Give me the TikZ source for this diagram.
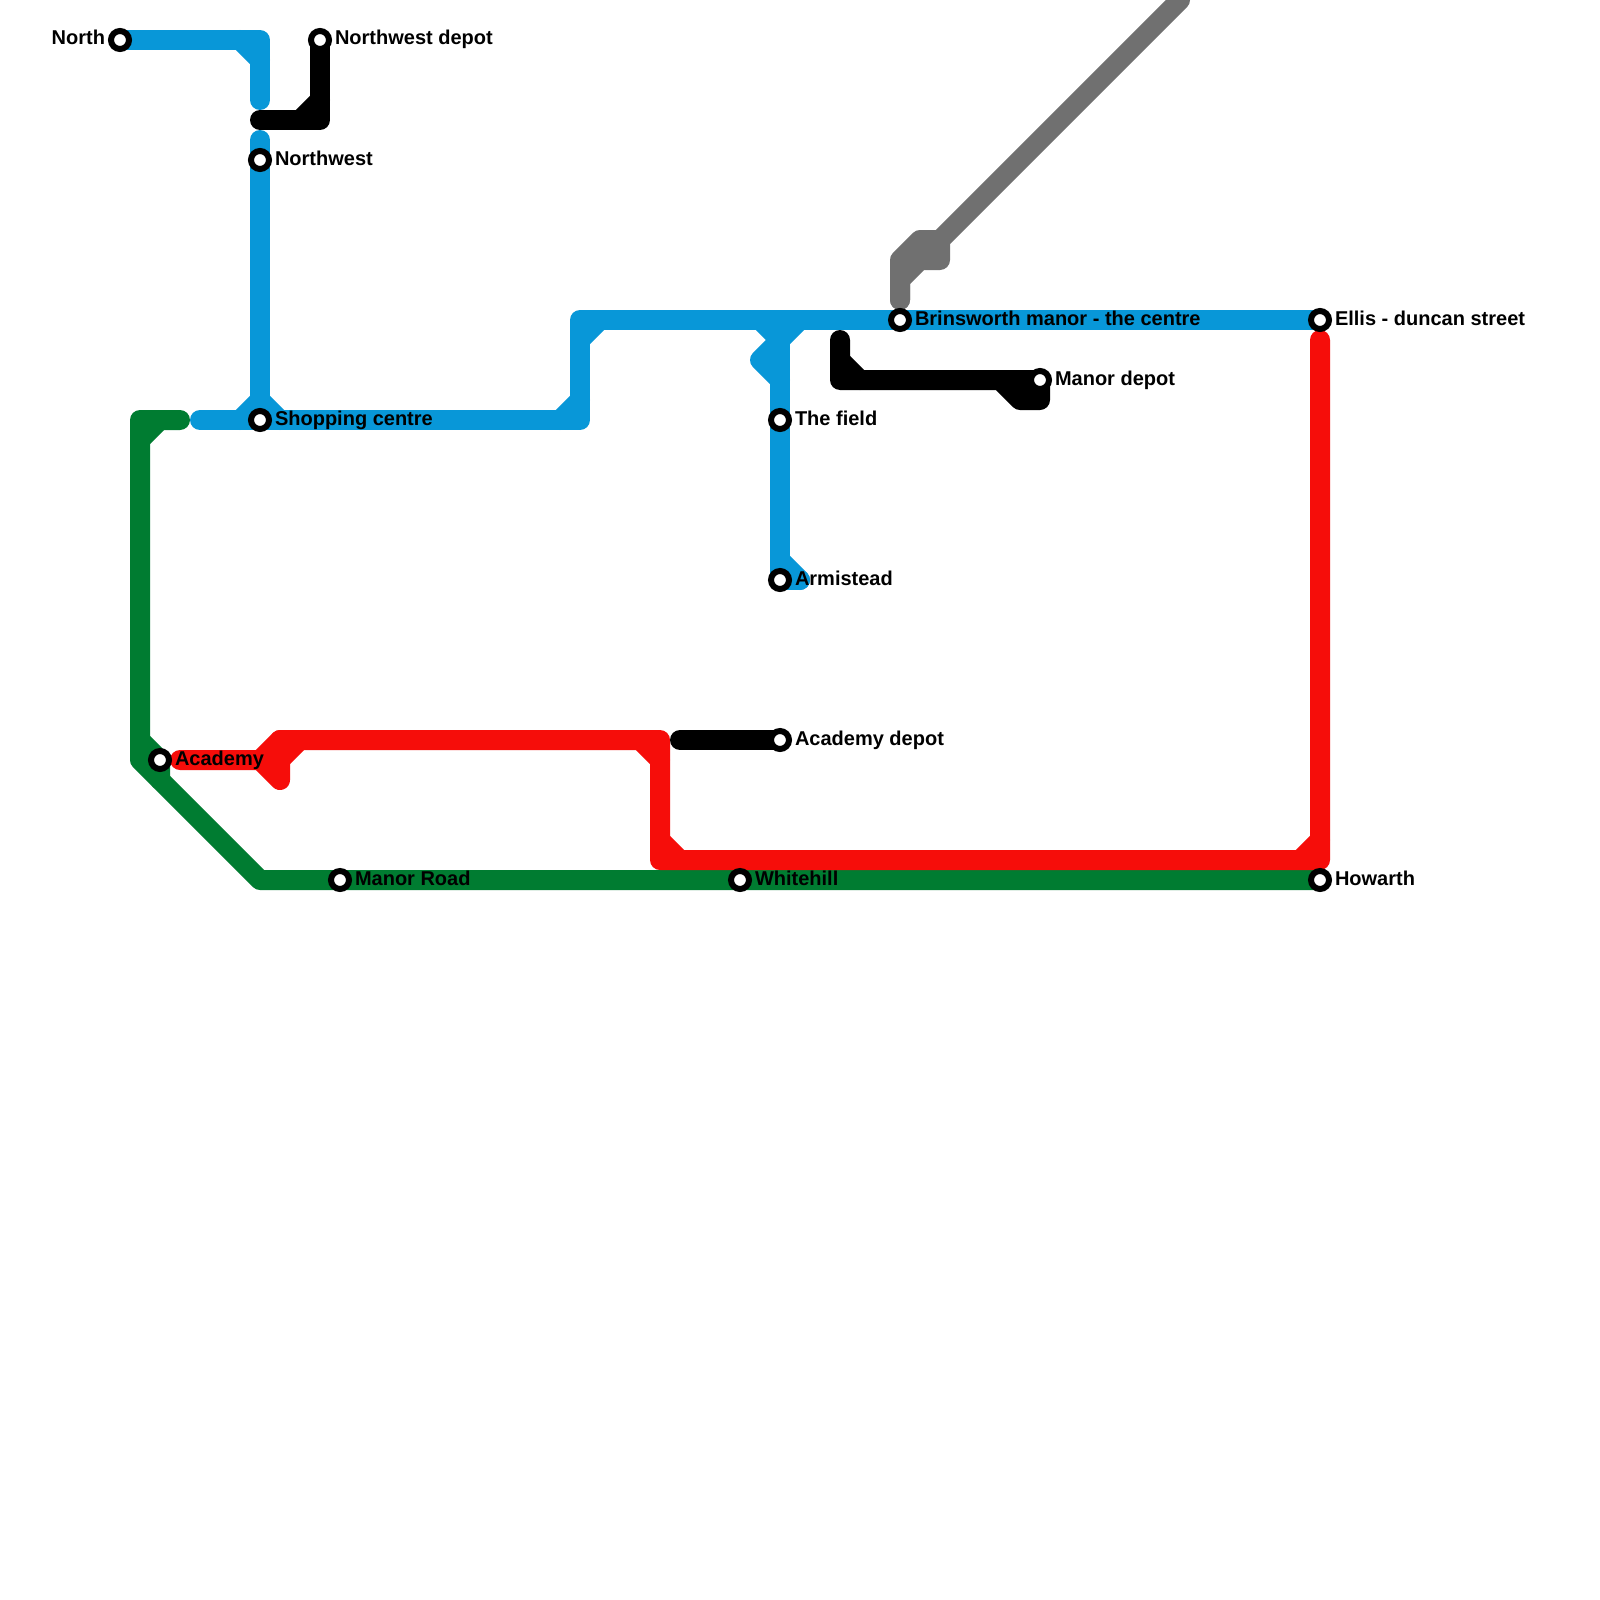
\documentclass[tikz,border=0pt]{standalone}
\usepackage{fontspec}
\setmainfont{Liberation Sans}
\usetikzlibrary{backgrounds}
\definecolor{mblue}{HTML}{0897D8}
\definecolor{mgreen}{HTML}{007C31}
\definecolor{mred}{HTML}{F60D0A}
\definecolor{mgray}{HTML}{707070}
\tikzset{
  track/.style={line width=10pt,line cap=round,line join=round},
  station/.style={circle,draw=black,fill=white,line width=3pt,minimum size=9pt,inner sep=0pt,outer sep=0pt},
  lblr/.style={anchor=base west,inner sep=0pt,outer sep=0pt,font=\bfseries\fontsize{10pt}{12pt}\selectfont,text=black},
  lbll/.style={anchor=base east,inner sep=0pt,outer sep=0pt,font=\bfseries\fontsize{10pt}{12pt}\selectfont,text=black},
}
\newcommand{\Rlabel}[3]{\node[lblr] (#2) at ([shift={(15,5)}]#1.center) {#3};}
\begin{document}
\begin{tikzpicture}[x=0.5pt,y=-0.5pt]
\useasboundingbox (0,0) rectangle (1600,1600);
% stations
\node[station] (north) at (120,40) {};
\node[station] (nwdepot) at (320,40) {};
\node[station] (nw) at (260,160) {};
\node[station] (shop) at (260,420) {};
\node[station] (field) at (780,420) {};
\node[station] (armi) at (780,580) {};
\node[station] (brins) at (900,320) {};
\node[station] (ellis) at (1320,320) {};
\node[station] (mandepot) at (1040,380) {};
\node[station] (acad) at (160,760) {};
\node[station] (acaddepot) at (780,740) {};
\node[station] (manorrd) at (340,880) {};
\node[station] (white) at (740,880) {};
\node[station] (howarth) at (1320,880) {};
% labels
\node[lbll] (lnorth) at ([shift={(-15,5)}]north.center) {North};
\Rlabel{nwdepot}{lnwdepot}{Northwest depot}
\Rlabel{nw}{lnw}{Northwest}
\Rlabel{shop}{lshop}{Shopping centre}
\Rlabel{field}{lfield}{The field}
\Rlabel{armi}{larmi}{Armistead}
\Rlabel{brins}{lbrins}{Brinsworth manor - the centre}
\Rlabel{ellis}{lellis}{Ellis - duncan street}
\Rlabel{mandepot}{lmandepot}{Manor depot}
\Rlabel{acad}{lacad}{Academy}
\Rlabel{acaddepot}{lacaddepot}{Academy depot}
\Rlabel{manorrd}{lmanorrd}{Manor Road}
\Rlabel{white}{lwhite}{Whitehill}
\Rlabel{howarth}{lhowarth}{Howarth}
% waypoints
\coordinate (b1) at (260,40);
\coordinate (b2) at (260,100);
\coordinate (b3) at (260,140);
\coordinate (b4) at (200,420);
\coordinate (b5) at (580,420);
\coordinate (b6) at (580,320);
\coordinate (b7) at (780,320);
\coordinate (b8) at (760,360);
\coordinate (b9) at (800,580);
\coordinate (g1) at (180,420);
\coordinate (g2) at (140,420);
\coordinate (g3) at (140,760);
\coordinate (g4) at (260,880);
\coordinate (r1) at (180,760);
\coordinate (r2) at (260,760);
\coordinate (r3) at (280,740);
\coordinate (r4) at (660,740);
\coordinate (r5) at (660,860);
\coordinate (r6) at (1320,860);
\coordinate (r7) at (1320,340);
\coordinate (r8) at (280,780);
\coordinate (k1) at (320,120);
\coordinate (k2) at (260,120);
\coordinate (k3) at (680,740);
\coordinate (k4) at (840,340);
\coordinate (k5) at (840,380);
\coordinate (k6) at (1000,380);
\coordinate (k7) at (1020,400);
\coordinate (k8) at (1040,400);
\coordinate (y1) at (1180,0);
\coordinate (y2) at (940,240);
\coordinate (y3) at (940,260);
\coordinate (y4) at (920,260);
\coordinate (y5) at (900,280);
\coordinate (y6) at (900,300);
\coordinate (y7) at (920,240);
\coordinate (y8) at (900,260);
\begin{scope}[on background layer]
\fill[white] (0,0) rectangle (1600,1600);
% green line
\draw[track,mgreen] (g1) -- (g2) -- (g3) -- (g4) -- (howarth.center);
\draw[track,mgreen] ([shift={(0,20)}]g2) -- ([shift={(20,0)}]g2);
\draw[track,mgreen] ([shift={(0,-20)}]g3) -- (acad.center) -- ([shift={(0,20)}]acad.center);
% blue line
\draw[track,mblue] (north.center) -- (b1) -- (b2);
\draw[track,mblue] ([shift={(-20,0)}]b1) -- ([shift={(0,20)}]b1);
\draw[track,mblue] (b3) -- (nw.center) -- (shop.center);
\draw[track,mblue] (b4) -- (b5) -- (b6) -- (ellis.center);
\draw[track,mblue] ([shift={(-20,0)}]shop.center) -- ([shift={(0,-20)}]shop.center) -- ([shift={(20,0)}]shop.center);
\draw[track,mblue] ([shift={(-20,0)}]b5) -- ([shift={(0,-20)}]b5);
\draw[track,mblue] ([shift={(0,20)}]b6) -- ([shift={(20,0)}]b6);
\draw[track,mblue] (b7) -- (field.center) -- (armi.center) -- (b9);
\draw[track,mblue] ([shift={(-20,0)}]b7) -- ([shift={(0,20)}]b7) -- ([shift={(20,0)}]b7);
\draw[track,mblue] ([shift={(0,20)}]b7) -- (b8) -- ([shift={(0,60)}]b7);
\draw[track,mblue] ([shift={(0,-20)}]armi.center) -- (b9);
% gray line
\draw[track,mgray] (y1) -- (y2) -- (y3) -- (y4) -- (y5) -- (y6);
\draw[track,mgray] (y2) -- (y7) -- (y8) -- (y6);
\fill[mgray] (y7) -- (y2) -- (y3) -- (y4) -- (y5) -- (y8) -- cycle;
% red line
\draw[track,mred] (r1) -- (r2) -- (r3) -- (r4) -- (r5) -- (r6) -- (r7);
\draw[track,mred] (r2) -- (r8) -- (r3);
\draw[track,mred] ([shift={(0,20)}]r3) -- ([shift={(20,0)}]r3);
\draw[track,mred] ([shift={(-20,0)}]r4) -- ([shift={(0,20)}]r4);
\draw[track,mred] ([shift={(0,-20)}]r5) -- ([shift={(20,0)}]r5);
\draw[track,mred] ([shift={(-20,0)}]r6) -- ([shift={(0,-20)}]r6);
% black lines
\draw[track,black] (nwdepot.center) -- (k1) -- (k2);
\draw[track,black] ([shift={(0,-20)}]k1) -- ([shift={(-20,0)}]k1);
\draw[track,black] (k3) -- (acaddepot.center);
\draw[track,black] (k4) -- (k5) -- (k6) -- (k7) -- (k8) -- (mandepot.center) -- (k6);
\draw[track,black] ([shift={(0,-20)}]k5) -- ([shift={(20,0)}]k5);
\end{scope}
\end{tikzpicture}
\end{document}
